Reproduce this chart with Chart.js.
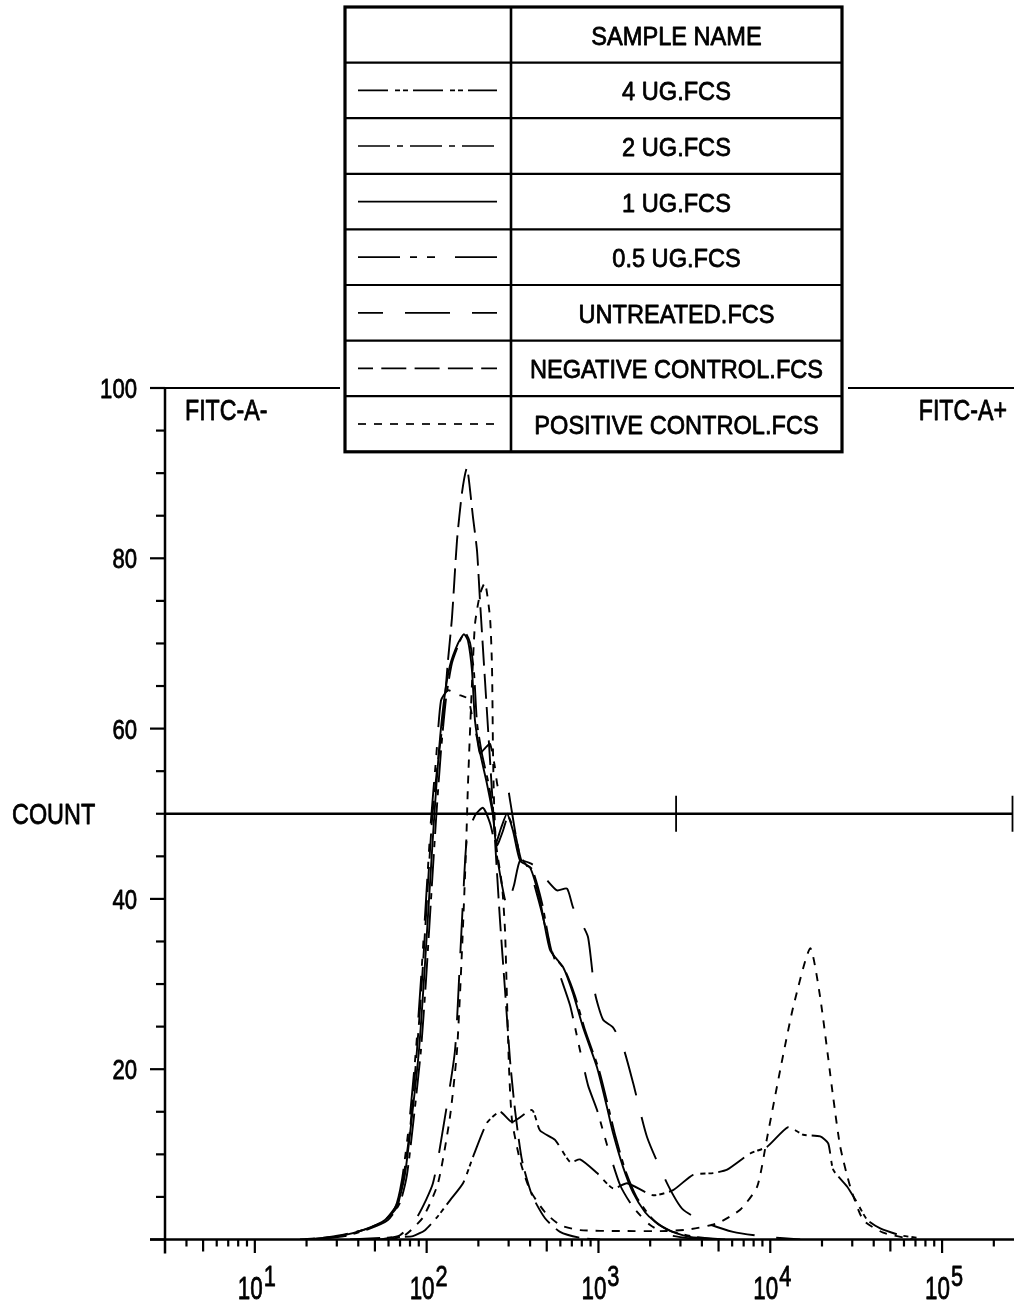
<!DOCTYPE html>
<html>
<head>
<meta charset="utf-8">
<script src="https://cdn.jsdelivr.net/npm/chart.js@4.4.1/dist/chart.umd.min.js"></script>
<style>
html,body{margin:0;padding:0;background:#fff;}
#wrap{width:1014px;height:1306px;position:relative;}
</style>
</head>
<body>
<div id="wrap"><canvas id="c"></canvas></div>
<script>
// ---------- data ----------
const seriesNames = ['4 UG.FCS','2 UG.FCS','1 UG.FCS','0.5 UG.FCS','UNTREATED.FCS','NEGATIVE CONTROL.FCS','POSITIVE CONTROL.FCS'];
const legendHeader = 'SAMPLE NAME';
const xDecadeExponents = [1,2,3,4,5];
const yTickValues = [0,20,40,60,80,100];
const yAxisTitle = 'COUNT';
const gateLabels = ['FITC-A-','FITC-A+'];
const gateBoundary = 2830;
const gateLevel = 50;
const xMin = 3, xMax = 262144;

const ug4X = [35.8, 69.9, 83.2, 97.8, 114.8, 136.7, 162.8, 186.1, 224.5, 267.2, 313.9, 410.5, 457.0, 558.7, 683.3, 781.4, 981.3, 1216, 1468, 2080, 2720, 3555, 4650, 5611, 7637, 9592, 12715, 15550, 19530, 21740, 23240, 28050, 32080, 36670, 43660, 57100, 71710];
const ug4Y = [0, 0.3, 0.4, 1.1, 2.6, 4.6, 6.6, 9.7, 13.7, 15.0, 13.8, 15.2, 12.8, 11.7, 9.1, 9.4, 7.8, 6.0, 6.6, 5.2, 5.8, 7.6, 7.8, 8.2, 10.1, 10.9, 13.2, 12.3, 12.1, 11.3, 8.2, 6.2, 4.3, 2.3, 1.3, 0.5, 0.2];

const ug2X = [22.4, 33.4, 45.5, 59.5, 69.9, 76.8, 84.3, 92.6, 99.1, 105.9, 113.3, 121.2, 129.6, 140.4, 156.3, 167.2, 178.8, 188.6, 196.4, 210.0, 230.6, 246.6, 256.7, 278.2, 297.5, 326.8, 358.9, 410.5, 469.4, 536.6, 639.0, 730.6, 835.5, 1008, 1153, 1249, 1429, 1656, 1945, 2224, 2720, 3653, 5462];
const ug2Y = [0, 0.4, 1.2, 2.3, 4.3, 7.6, 14.4, 22.2, 30.4, 39.8, 49.2, 57.4, 63.5, 67.7, 70.3, 71.3, 70.1, 66.6, 60.7, 57.0, 53.3, 49.4, 46.3, 48.0, 49.7, 47.7, 44.3, 43.5, 39.5, 33.7, 31.6, 28.6, 24.6, 19.9, 15.2, 12.3, 8.2, 5.1, 3.0, 1.8, 0.9, 0.3, 0];

const ug1X = [20.9, 31.3, 43.7, 57.2, 68.0, 74.7, 82.1, 90.2, 96.4, 103.1, 110.3, 117.9, 126.2, 136.7, 152.2, 164.9, 174.0, 183.6, 191.2, 204.4, 224.5, 243.3, 253.3, 270.8, 293.6, 318.1, 349.4, 399.6, 457.0, 522.5, 622.0, 711.4, 813.5, 981.3, 1122, 1216, 1391, 1590, 1868, 2136, 2612, 3416, 5108];
const ug1Y = [0, 0.4, 1.2, 2.3, 4.3, 7.6, 14.4, 22.2, 30.4, 39.8, 49.2, 57.4, 63.3, 67.4, 70.0, 71.1, 70.3, 66.8, 60.9, 57.2, 53.5, 49.8, 46.6, 48.3, 50.0, 48.0, 44.5, 43.7, 39.8, 34.0, 32.0, 28.9, 24.9, 20.2, 15.5, 12.5, 8.5, 5.5, 3.2, 2.1, 1.0, 0.3, 0];

const ug05X = [19.6, 29.2, 40.9, 53.5, 65.4, 71.8, 78.9, 86.6, 92.6, 99.1, 105.9, 113.3, 121.2, 133.1, 152.2, 174.0, 186.1, 196.4, 204.4, 218.6, 233.8, 249.9, 260.2, 278.2, 293.6, 305.6, 326.8, 349.4, 399.6, 457.0, 522.5, 597.6, 683.3, 781.4, 869.8, 981.3, 1122, 1336, 1590, 1998, 2612, 3906];
const ug05Y = [0, 0.3, 1.0, 1.9, 3.7, 7.0, 13.4, 22.2, 30.4, 39.8, 49.2, 56.3, 63.3, 64.5, 64.0, 63.5, 60.9, 58.9, 57.1, 57.7, 58.2, 55.4, 53.1, 53.3, 53.5, 51.6, 48.0, 45.1, 43.3, 39.2, 34.6, 31.0, 27.5, 22.2, 18.1, 15.2, 11.1, 6.4, 3.8, 1.7, 0.5, 0];

const untreatedX = [53.5, 69.9, 87.8, 108.8, 127.9, 146.2, 156.3, 162.8, 171.7, 191.2, 212.8, 233.8, 249.9, 274.5, 293.6, 322.4, 349.4, 399.6, 439.0, 501.9, 574.0, 656.3, 711.4, 781.4, 869.8, 955.4, 1064, 1216, 1391, 1590, 1919, 2509, 3110, 4291, 6079, 9592, 14930];
const untreatedY = [0, 0.5, 2.6, 6.6, 14.4, 22.2, 32.8, 39.8, 47.2, 49.8, 50.7, 48.9, 46.3, 41.6, 39.2, 41.6, 44.5, 44.2, 43.7, 42.2, 41.0, 41.2, 39.0, 37.5, 35.5, 28.9, 25.8, 24.9, 22.6, 18.4, 12.0, 6.6, 3.5, 1.9, 0.9, 0.3, 0];

const negX = [18.3, 27.3, 42.6, 55.7, 67.1, 72.8, 79.9, 87.8, 93.9, 100.4, 107.4, 114.8, 124.5, 133.1, 140.4, 150.2, 160.6, 171.7, 186.1, 196.4, 204.4, 218.6, 233.8, 249.9, 267.2, 285.8, 305.6, 326.8, 358.9, 410.5, 488.7, 597.6, 781.4, 1022];
const negY = [0, 0.3, 1.1, 2.1, 3.8, 7.0, 12.8, 22.2, 30.4, 39.8, 49.2, 55.1, 61.0, 68.0, 73.0, 82.1, 87.7, 90.6, 84.8, 80.9, 75.0, 65.6, 56.3, 46.9, 37.5, 29.3, 21.1, 15.2, 9.3, 5.2, 2.5, 0.9, 0.2, 0];

const posX = [61.1, 74.7, 95.2, 116.4, 136.7, 150.2, 160.6, 169.4, 174.0, 183.6, 191.2, 204.4, 218.6, 233.8, 240.1, 243.3, 246.6, 253.3, 274.5, 285.8, 293.6, 301.5, 313.9, 349.4, 399.6, 488.7, 597.6, 781.4, 1336, 2509, 3416, 4907, 6679, 8389, 9592, 11420, 13600, 17080, 19530, 23240, 25530, 29200, 34750, 45450, 67960];
const posY = [0, 0.5, 2.6, 6.6, 14.4, 22.2, 34.0, 45.7, 53.5, 65.3, 72.3, 75.8, 77.1, 73.0, 67.2, 57.4, 51.6, 46.5, 41.6, 36.3, 28.1, 20.2, 14.0, 9.3, 5.8, 3.2, 1.7, 1.1, 1.0, 1.0, 1.2, 1.9, 3.5, 6.2, 12.0, 19.9, 27.3, 34.2, 28.4, 16.7, 10.9, 6.2, 2.3, 0.8, 0];

// ---------- styling ----------
const FONT = '"Liberation Sans", Arial, Helvetica, sans-serif';
const LB = {left:345, top:7, width:497, rowHeight:55.6, split:511, lineX1:358, lineX2:497};
const dashes = [
  {dash:[30,7,5,3,5,5], off:0},
  {dash:[32,7,6,7], off:0},
  {dash:[], off:0},
  {dash:[42,10,7,10,8,20], off:0},
  {dash:[45,22], off:20},
  {dash:[25,8.3], off:10},
  {dash:[8,8], off:0}
];
const xs_ = [ug4X, ug2X, ug1X, ug05X, untreatedX, negX, posX];
const ys_ = [ug4Y, ug2Y, ug1Y, ug05Y, untreatedY, negY, posY];

const datasets = seriesNames.map((name, i) => ({
  label: name,
  data: xs_[i].map((x, j) => ({x: x, y: ys_[i][j]})),
  borderColor: '#000',
  borderWidth: 1.9,
  borderDash: dashes[i].dash,
  borderDashOffset: dashes[i].off,
  pointRadius: 0,
  tension: 0.2,
  fill: false
}));

function drawText(ctx, s, x, y, size, sx, align) {
  ctx.save();
  ctx.font = size + 'px ' + FONT;
  const w = ctx.measureText(s).width * sx;
  let x0 = x;
  if (align === 'center') x0 = x - w / 2;
  else if (align === 'right') x0 = x - w;
  ctx.translate(x0, y);
  ctx.scale(sx, 1);
  ctx.textAlign = 'left';
  ctx.textBaseline = 'alphabetic';
  ctx.fillStyle = '#000';
  ctx.strokeStyle = '#000';
  ctx.setLineDash([]);
  ctx.lineWidth = 0.8;
  ctx.lineJoin = 'round';
  ctx.fillText(s, 0, 0);
  ctx.strokeText(s, 0, 0);
  ctx.restore();
  return w;
}

const overlay = {
  id: 'overlay',
  afterDraw(chart) {
    const ctx = chart.ctx, xs = chart.scales.x, ys = chart.scales.y;
    const L = xs.left, R = xs.right, T = ys.top, B = ys.bottom;
    function seg(x1, y1, x2, y2, w) {
      ctx.beginPath(); ctx.lineWidth = w; ctx.moveTo(x1, y1); ctx.lineTo(x2, y2); ctx.stroke();
    }
    ctx.save();
    ctx.strokeStyle = '#000'; ctx.fillStyle = '#000'; ctx.setLineDash([]); ctx.lineCap = 'butt';

    // axes
    seg(L, T, L, B + 14, 2.5);
    seg(L - 15, B, R, B, 2.5);
    // top frame (interrupted by legend table)
    seg(L - 15, T, LB.left - 5, T, 1.8);
    seg(LB.left + LB.width + 6, T, R, T, 1.8);

    // y ticks
    for (let v = 0; v <= 100; v += 5) {
      const py = ys.getPixelForValue(v);
      const major = v % 20 === 0;
      seg(L - (major ? 15 : 9), py, L, py, 2.2);
    }
    yTickValues.forEach(v => {
      if (v === 0) return;
      const py = ys.getPixelForValue(v);
      drawText(ctx, String(v), L - 28, py + 10, 28, 0.79, 'right');
    });
    drawText(ctx, yAxisTitle, 12, ys.getPixelForValue(gateLevel) + 10.5, 30, 0.78, 'left');

    // x ticks
    for (let e = 0; e <= 5; e++) {
      for (let m = 1; m <= 9; m++) {
        const v = m * Math.pow(10, e);
        if (v <= xMin || v > xMax) continue;
        const px = xs.getPixelForValue(v);
        const len = m === 1 ? 13.5 : (m === 5 ? 12 : 7);
        seg(px, B, px, B + len, 2.2);
      }
    }
    // x labels
    xDecadeExponents.forEach(e => {
      const px = xs.getPixelForValue(Math.pow(10, e));
      ctx.save();
      ctx.font = '32px ' + FONT;
      const w1 = ctx.measureText('10').width * 0.7;
      ctx.font = '29px ' + FONT;
      const w2 = ctx.measureText(String(e)).width * 0.75;
      ctx.restore();
      const total = w1 + 1 + w2;
      const x0 = px - total / 2 + 2;
      drawText(ctx, '10', x0, B + 59.5, 32, 0.7, 'left');
      drawText(ctx, String(e), x0 + w1 + 1, B + 46.5, 29, 0.75, 'left');
    });

    // gate
    const gy = ys.getPixelForValue(gateLevel);
    const bx = xs.getPixelForValue(gateBoundary);
    seg(L, gy, R - 1, gy, 2.4);
    seg(bx, gy - 18, bx, gy + 18, 1.8);
    seg(R - 1.5, gy - 18, R - 1.5, gy + 18, 1.8);
    drawText(ctx, gateLabels[0], L + 20, T + 32, 29, 0.8, 'left');
    drawText(ctx, gateLabels[1], R - 7, T + 32, 29, 0.8, 'right');

    // legend table
    const H = LB.rowHeight * 8;
    ctx.fillStyle = '#fff';
    ctx.fillRect(LB.left, LB.top, LB.width, H);
    ctx.fillStyle = '#000';
    for (let i = 1; i < 8; i++) {
      const y = LB.top + i * LB.rowHeight;
      seg(LB.left, y, LB.left + LB.width, y, 2.2);
    }
    seg(LB.split, LB.top, LB.split, LB.top + H, 2.6);
    ctx.lineWidth = 3.2;
    ctx.strokeRect(LB.left, LB.top, LB.width, H);
    const cx = (LB.split + LB.left + LB.width) / 2;
    drawText(ctx, legendHeader, cx, LB.top + LB.rowHeight / 2 + 10, 26.5, 0.89, 'center');
    chart.data.datasets.forEach((ds, i) => {
      const yc = LB.top + (i + 1.5) * LB.rowHeight;
      drawText(ctx, ds.label, cx, yc + 10, 26.5, 0.89, 'center');
      ctx.save();
      ctx.setLineDash(ds.borderDash || []);
      ctx.lineDashOffset = ds.borderDashOffset || 0;
      seg(LB.lineX1, yc, LB.lineX2, yc, 1.7);
      ctx.restore();
    });
    ctx.restore();
  }
};

new Chart(document.getElementById('c'), {
  type: 'line',
  data: { datasets: datasets },
  options: {
    responsive: true,
    maintainAspectRatio: false,
    animation: false,
    layout: { padding: { left: 165, right: 0, top: 388, bottom: 66.5 } },
    parsing: true,
    scales: {
      x: { type: 'logarithmic', min: xMin, max: xMax, display: false },
      y: { type: 'linear', min: 0, max: 100, display: false }
    },
    plugins: { legend: { display: false }, tooltip: { enabled: false } },
    elements: { point: { radius: 0 } }
  },
  plugins: [overlay]
});
</script>
</body>
</html>
